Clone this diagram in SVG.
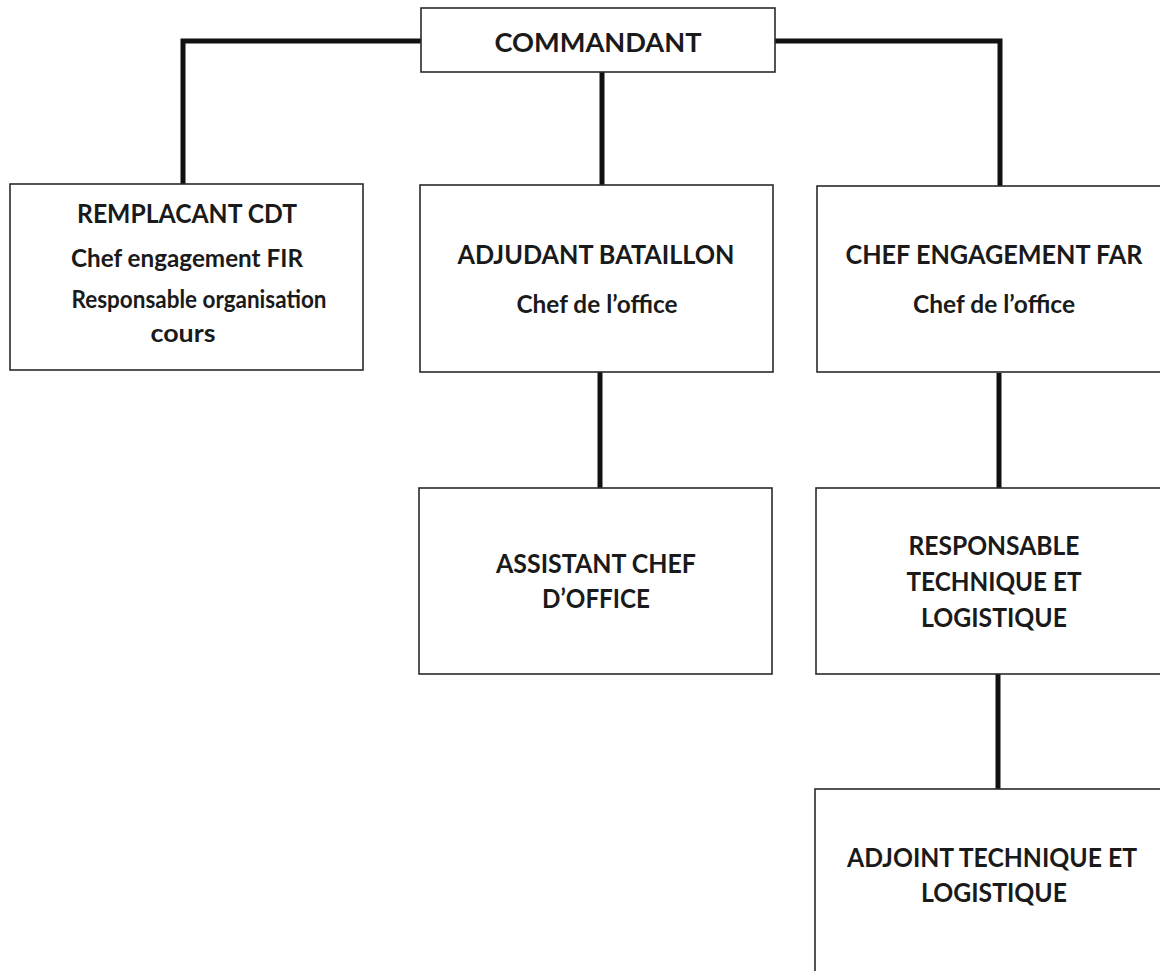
<svg xmlns="http://www.w3.org/2000/svg" width="1160" height="971" viewBox="0 0 1160 971">
<style>
.box{fill:#fff;stroke:#2a2a2a;stroke-width:1.6}
.t{font-family:Lato,"Open Sans","Liberation Sans",sans-serif;font-weight:bold;font-size:26px;fill:#1a1a1a;text-anchor:middle}
.s{font-size:25px}
.c{fill:none;stroke:#111;stroke-width:5;stroke-linejoin:miter}
</style>
<rect width="1160" height="971" fill="#fff"/>
<g id="connectors">
<path class="c" d="M421,41 H183 V184"/>
<path class="c" d="M775,41 H1000 V186"/>
<path class="c" d="M602,72 V185"/>
<path class="c" d="M600,372 V488"/>
<path class="c" d="M999,373 V488"/>
<path class="c" d="M998,674 V789"/>
</g>
<g id="commandant">
<rect class="box" x="421" y="8" width="354" height="64"/>
<text class="t" x="598" y="52" textLength="207" lengthAdjust="spacingAndGlyphs">COMMANDANT</text>
</g>
<g id="remplacant">
<rect class="box" x="10" y="184" width="353" height="186"/>
<text class="t" x="187" y="223" textLength="220" lengthAdjust="spacingAndGlyphs">REMPLACANT CDT</text>
<text class="t s" x="187" y="267" textLength="232" lengthAdjust="spacingAndGlyphs">Chef engagement FIR</text>
<text class="t s" x="199" y="308" textLength="255" lengthAdjust="spacingAndGlyphs">Responsable organisation</text>
<text class="t s" x="183" y="342" textLength="65" lengthAdjust="spacingAndGlyphs">cours</text>
</g>
<g id="adjudant">
<rect class="box" x="420" y="185" width="353" height="187"/>
<text class="t" x="596" y="264" textLength="277" lengthAdjust="spacingAndGlyphs">ADJUDANT BATAILLON</text>
<text class="t s" x="597" y="313" textLength="161" lengthAdjust="spacingAndGlyphs">Chef de l’office</text>
</g>
<g id="chef-far">
<rect class="box" x="817" y="186" width="360" height="186"/>
<text class="t" x="994" y="264" textLength="297" lengthAdjust="spacingAndGlyphs">CHEF ENGAGEMENT FAR</text>
<text class="t s" x="994" y="313" textLength="162" lengthAdjust="spacingAndGlyphs">Chef de l’office</text>
</g>
<g id="assistant">
<rect class="box" x="419" y="488" width="353" height="186"/>
<text class="t" x="596" y="573" textLength="200" lengthAdjust="spacingAndGlyphs">ASSISTANT CHEF</text>
<text class="t" x="596" y="608" textLength="108" lengthAdjust="spacingAndGlyphs">D’OFFICE</text>
</g>
<g id="responsable">
<rect class="box" x="816" y="488" width="360" height="186"/>
<text class="t" x="994" y="555" textLength="171" lengthAdjust="spacingAndGlyphs">RESPONSABLE</text>
<text class="t" x="994" y="591" textLength="175" lengthAdjust="spacingAndGlyphs">TECHNIQUE ET</text>
<text class="t" x="994" y="627" textLength="146" lengthAdjust="spacingAndGlyphs">LOGISTIQUE</text>
</g>
<g id="adjoint">
<rect class="box" x="815" y="789" width="360" height="200"/>
<text class="t" x="992" y="867" textLength="290" lengthAdjust="spacingAndGlyphs">ADJOINT TECHNIQUE ET</text>
<text class="t" x="994" y="902" textLength="146" lengthAdjust="spacingAndGlyphs">LOGISTIQUE</text>
</g>
</svg>
